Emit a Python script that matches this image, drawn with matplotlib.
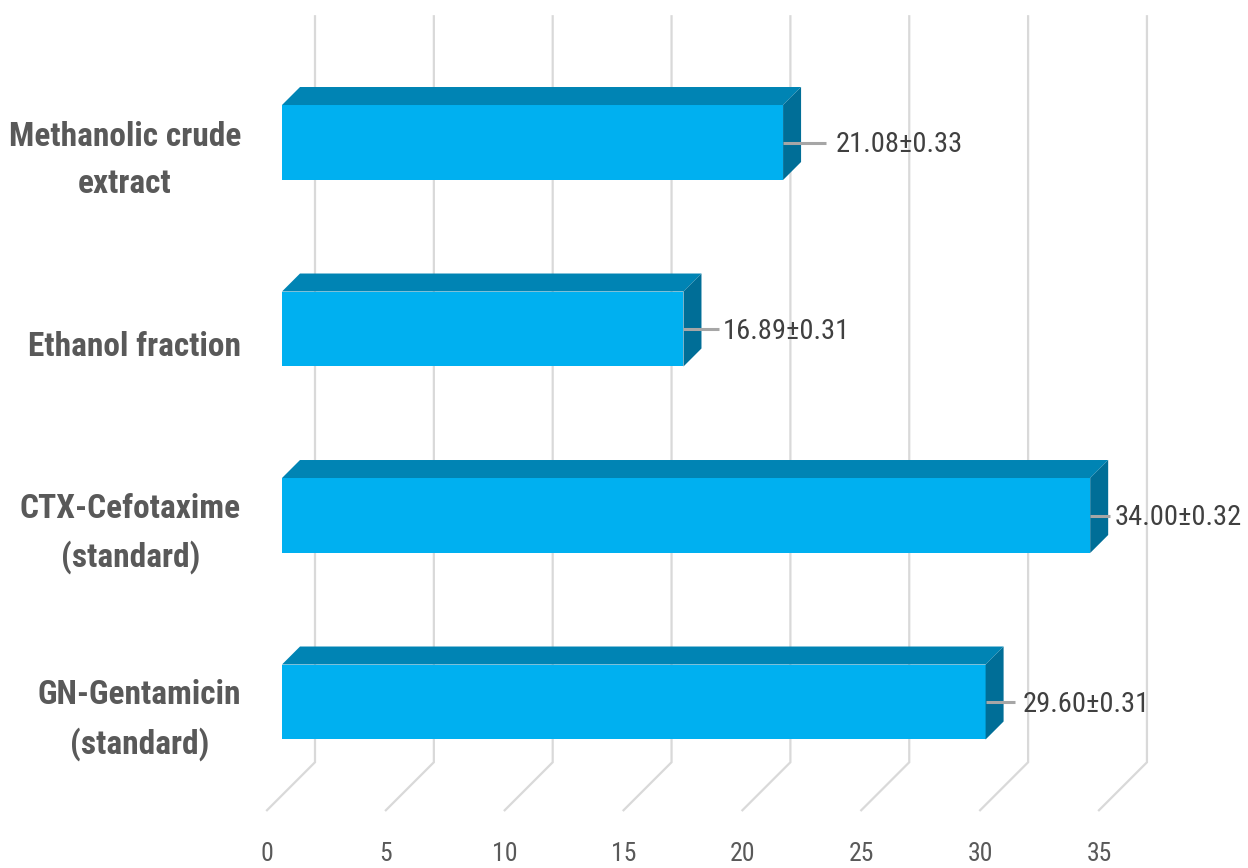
import matplotlib
matplotlib.use("Agg")
import matplotlib.pyplot as plt
from matplotlib.patches import Polygon

# ---- data ----
categories = ["Methanolic crude\nextract", "Ethanol fraction",
              "CTX-Cefotaxime\n(standard)", "GN-Gentamicin\n(standard)"]
values = [21.08, 16.89, 34.00, 29.60]
errors = [0.33, 0.31, 0.32, 0.31]
xticks = [0, 5, 10, 15, 20, 25, 30, 35]

# ---- layout / style ----
W, H, DPI = 1248, 868, 100
FRONT = "#00B0F0"
TOP = "#0084B4"
SIDE = "#006E97"
GRID = "#D9D9D9"
TXT = "#595959"
FONT = ["Roboto Condensed", "DejaVu Sans"]

# label leader (end offset, text offset) in pixels from bar end
leader_end = [43, 36, 20, 29]
text_off = [53, 39, 24, 37]

fig = plt.figure(figsize=(W / DPI, H / DPI), dpi=DPI)
ax = fig.add_axes([0, 0, 1, 1])
ax.axis("off")
px_per_x = 23.77
px_per_cat = 186.5
x0_px = 282.0
y0_px = 142.5
ax.set_xlim(-x0_px / px_per_x, (W - x0_px) / px_per_x)
ax.set_ylim((H - y0_px) / px_per_cat, -y0_px / px_per_cat)


def shift(x, y, dx, dy):
    X, Y = ax.transData.transform((x, y))
    return ax.transData.inverted().transform((X + dx, Y + dy))


BACK = 33   # back wall offset (px)
FRNT = -15  # front plane offset (px)
DEPTH = 18  # bar depth (px)
ylo, yhi = -0.5, len(categories) - 0.5

# gridlines on back wall + floor diagonals
for v in xticks:
    a = shift(v, ylo, BACK, BACK)
    b = shift(v, yhi, BACK, BACK)
    c = shift(v, yhi, FRNT, FRNT)
    ax.plot([a[0], b[0], c[0]], [a[1], b[1], c[1]], color=GRID, lw=1.6,
            zorder=1, solid_joinstyle="miter")
    t = shift(v, yhi, FRNT, FRNT - 32)
    ax.text(t[0], t[1], str(v), ha="center", va="top", fontsize=18.5,
            color=TXT, family=FONT)

h = 0.402
ys = list(range(len(categories)))
ax.barh(ys, values, height=h, color=FRONT, zorder=3, edgecolor="none")

for i, (v, e) in enumerate(zip(values, errors)):
    top = i - h / 2
    bot = i + h / 2
    topface = [(0, top), (v, top), tuple(shift(v, top, DEPTH, DEPTH)),
               tuple(shift(0, top, DEPTH, DEPTH))]
    side = [(v, top), (v, bot), tuple(shift(v, bot, DEPTH, DEPTH)),
            tuple(shift(v, top, DEPTH, DEPTH))]
    ax.add_patch(Polygon(topface, closed=True, facecolor=TOP, edgecolor="none", zorder=3))
    ax.add_patch(Polygon(side, closed=True, facecolor=SIDE, edgecolor="none", zorder=3))
    # leader line + value label
    p1 = (v, i)
    p2 = shift(v, i, leader_end[i], 0)
    ax.plot([p1[0], p2[0]], [p1[1], p2[1]], color="#A6A6A6", lw=2.2, zorder=4,
            solid_capstyle="butt")
    pt = shift(v, i, text_off[i], -2)
    ax.text(pt[0], pt[1], f"{v:.2f}\u00b1{e:.2f}", ha="left", va="center",
            fontsize=20.5, color="#404040", family=FONT, zorder=5)
    # category label
    pl = shift(0, i, FRNT - 26, FRNT - 3)
    ax.text(pl[0], pl[1], categories[i], ha="right", va="center",
            multialignment="center", fontsize=24, fontweight="bold",
            color=TXT, family=FONT, linespacing=1.6)

fig.savefig("out.png", dpi=DPI)
